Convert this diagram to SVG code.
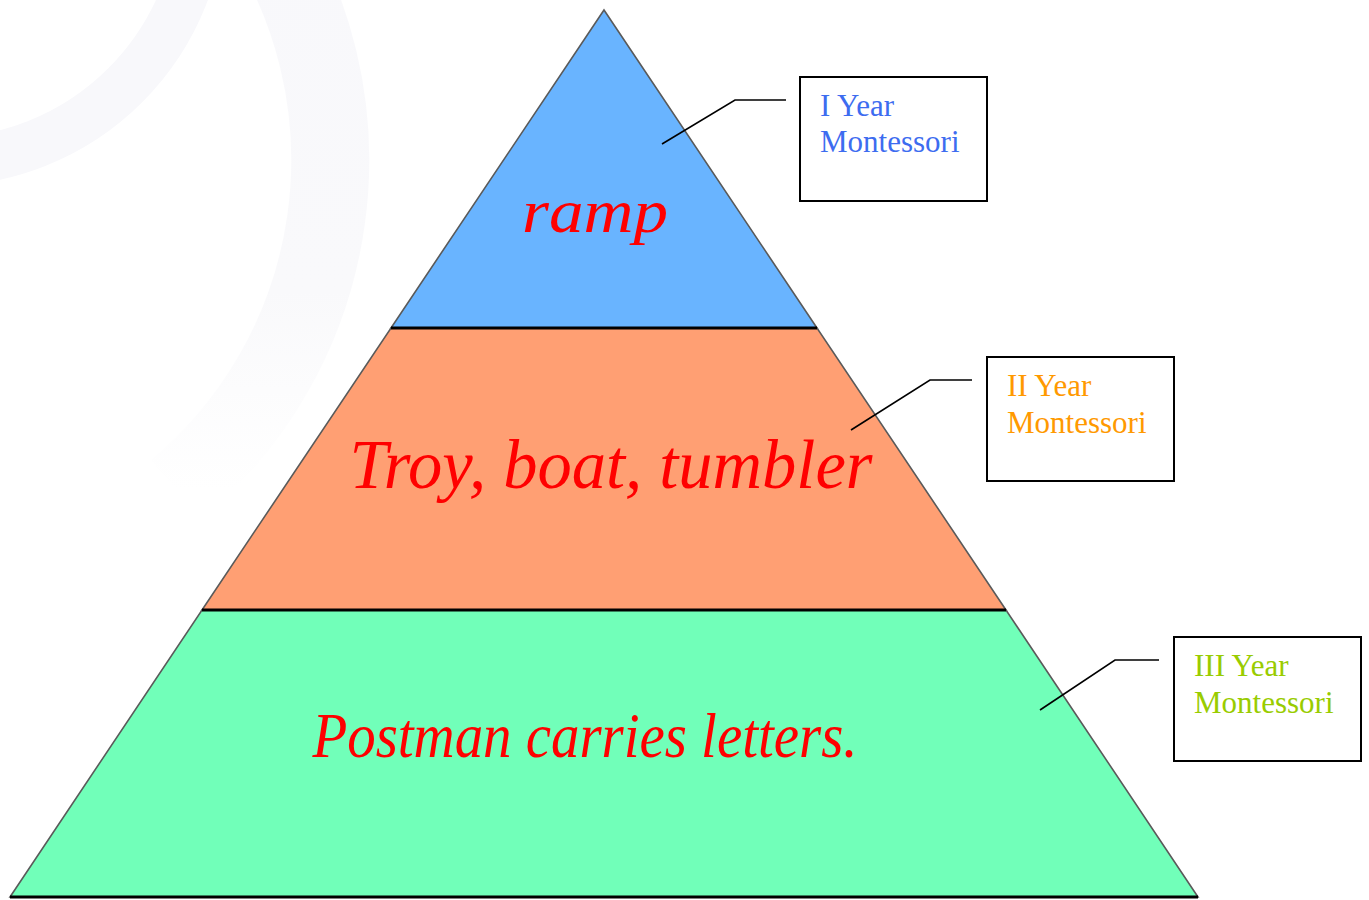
<svg xmlns="http://www.w3.org/2000/svg" width="1369" height="900" viewBox="0 0 1369 900">
  <defs>
    <style>
      .tier { stroke: #5a5a5a; stroke-width: 1.6; }
      .divider { stroke: #000; stroke-width: 3; }
      .box { fill: #fff; stroke: #000; stroke-width: 2; }
      .leader { fill: none; stroke: #000; stroke-width: 1.6; }
      .label { font-family: "Liberation Serif", "Times New Roman", serif; font-size: 31px; }
      .word { font-family: "Liberation Serif", "DejaVu Serif", serif; font-style: italic; fill: #ff0000; }
      .wm { fill: none; stroke: #f8f8fb; }
    </style>
    <linearGradient id="fade" x1="0" y1="0" x2="0" y2="1">
      <stop offset="0" stop-color="#f8f8fb"/>
      <stop offset="0.65" stop-color="#f9f9fb"/>
      <stop offset="1" stop-color="#ffffff"/>
    </linearGradient>
  </defs>
  <rect x="0" y="0" width="1369" height="900" fill="#ffffff"/>
  <g id="watermark">
    <circle class="wm" cx="-60" cy="-100" r="262" stroke-width="48"/>
    <path d="M 257 -80 A 430 430 0 0 1 176 490" fill="none" stroke="url(#fade)" stroke-width="78"/>
  </g>
  <g id="tier-top">
    <polygon class="tier" points="604,10 817,328 391,328" fill="#69b4ff"/>
    <text class="word" x="595" y="232" font-size="62" text-anchor="middle" textLength="146" lengthAdjust="spacingAndGlyphs">ramp</text>
  </g>
  <g id="tier-middle">
    <polygon class="tier" points="391,328 817,328 1006,610 202,610" fill="#ff9f73"/>
    <text class="word" x="611" y="488" font-size="70" text-anchor="middle" textLength="523" lengthAdjust="spacingAndGlyphs">Troy, boat, tumbler</text>
  </g>
  <g id="tier-bottom">
    <polygon class="tier" points="202,610 1006,610 1198,897 10,897" fill="#71ffb9"/>
    <text class="word" x="585" y="757" font-size="64" text-anchor="middle" textLength="545" lengthAdjust="spacingAndGlyphs">Postman carries letters.</text>
  </g>
  <g id="dividers">
    <line class="divider" x1="391" y1="328" x2="817" y2="328"/>
    <line class="divider" x1="202" y1="610" x2="1006" y2="610"/>
    <line class="divider" x1="10" y1="897" x2="1198" y2="897"/>
  </g>
  <g id="connectors">
    <polyline class="leader" points="662,144 735,100 786,100"/>
    <polyline class="leader" points="851,430 930,380 972,380"/>
    <polyline class="leader" points="1040,710 1115,660 1159,660"/>
  </g>
  <g id="label-1">
    <rect class="box" x="800" y="77" width="187" height="124"/>
    <text class="label" fill="#3d6cf0" x="820" y="116">I Year</text>
    <text class="label" fill="#3d6cf0" x="820" y="152">Montessori</text>
  </g>
  <g id="label-2">
    <rect class="box" x="987" y="357" width="187" height="124"/>
    <text class="label" fill="#ff9900" x="1007" y="396">II Year</text>
    <text class="label" fill="#ff9900" x="1007" y="433">Montessori</text>
  </g>
  <g id="label-3">
    <rect class="box" x="1174" y="637" width="187" height="124"/>
    <text class="label" fill="#99cc00" x="1194" y="676">III Year</text>
    <text class="label" fill="#99cc00" x="1194" y="713">Montessori</text>
  </g>
</svg>
